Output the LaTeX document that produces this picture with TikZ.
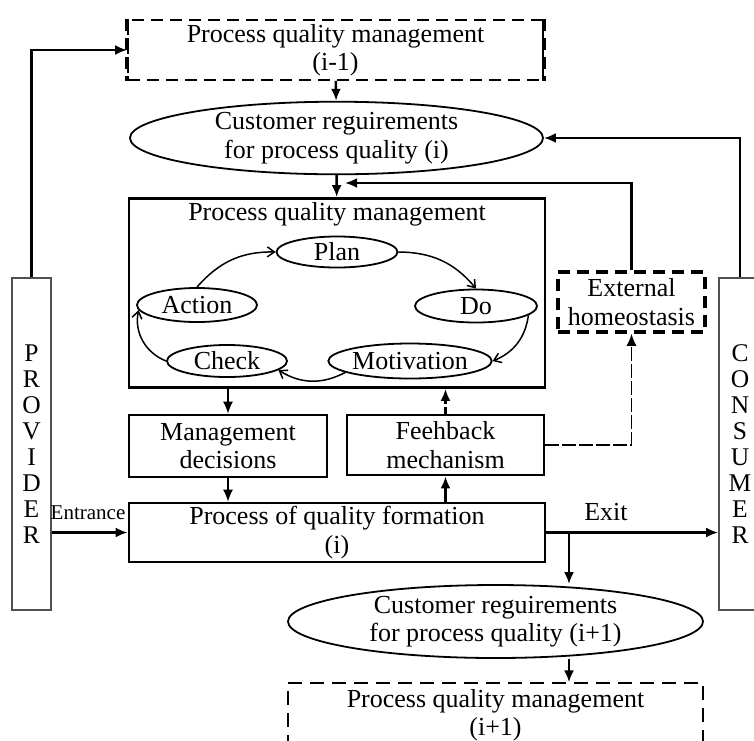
\documentclass[tikz,border=0pt]{standalone}
\usepackage{fontspec}
\setmainfont{Liberation Serif}
\usetikzlibrary{shapes.geometric,arrows.meta}
\definecolor{LineColor}{HTML}{000000}
\definecolor{SideColor}{HTML}{505050}
\tikzstyle{solid_box}=[rectangle,
                       draw=LineColor,
                       line width=2.8pt,
                       inner sep=0pt,
                       align=center]
\tikzstyle{dashed_box}=[rectangle,
                        draw=LineColor,
                        line width=1.8pt,
                        dash pattern=on 12pt off 7pt,
                        inner sep=0pt,
                        align=center]
\tikzstyle{oval}=[ellipse,
                  draw=LineColor,
                  line width=1.8pt,
                  inner sep=0pt,
                  align=center]
\tikzstyle{side_box}=[rectangle,
                      draw=SideColor,
                      line width=1.6pt,
                      inner sep=0pt,
                      align=center,
                      minimum height=332pt,
                      font=\fontsize{25.5}{26.1}\selectfont]
\tikzstyle{link}=[-{Latex[length=12pt,width=10pt]}, line width=2.4pt]
\tikzstyle{thin_link}=[-{Latex[length=12pt,width=10pt]}, line width=1.3pt]
\tikzstyle{cycle_link}=[-{Straight Barb[length=7pt,width=10pt]}, line width=1.5pt]

\begin{document}
\begin{tikzpicture}[font=\fontsize{26}{28.5}\selectfont]
    \useasboundingbox (0pt, 0pt) rectangle (754pt, -740pt);
    % ---------------------------------------------------------------------------------------------------------
    %  Previous and current requirements
    \node at (335.5pt, -50pt) (prevQM) [dashed_box, minimum width=415pt, minimum height=60pt] {Process quality management\\(i-1)};
    \draw[line width=3.8pt, dash pattern=on 12pt off 7pt] (prevQM.north west) -- (prevQM.south west);
    \draw[line width=3.8pt, dash pattern=on 12pt off 7pt] (prevQM.north east) -- (prevQM.south east);
    \node at (336.5pt, -138pt) (reqI) [oval, minimum width=413pt, minimum height=70pt] {Customer reguirements\\for process quality (i)};

    % ---------------------------------------------------------------------------------------------------------
    %  Process quality management with the cycle
    \node at (337pt, -293pt) (pqm) [solid_box, minimum width=416pt, minimum height=189pt] {};
    \node at (337pt, -214pt) (pqmTitle) {Process quality management};

    \node at (337pt, -252pt) (plan) [oval, minimum width=121pt, minimum height=31pt] {Plan};
    \node at (197pt, -305pt) (act) [oval, minimum width=120pt, minimum height=34pt] {Action};
    \node at (476pt, -306pt) (do) [oval, minimum width=122pt, minimum height=33pt] {Do};
    \node at (227pt, -361pt) (check) [oval, minimum width=120pt, minimum height=32pt] {Check};
    \node at (410pt, -361pt) (motiv) [oval, minimum width=150pt, minimum height=35pt] {Motivation};

    \draw[cycle_link] (act.north) to[bend left=25] (plan.west);
    \draw[cycle_link] (plan.east) to[bend left=25] (do.north);
    \draw[cycle_link] (do.-10) to[bend left=30] (motiv.east);
    \draw[cycle_link] (motiv.190) to[bend left=30] (check.-10);
    \draw[cycle_link] (check.west) to[bend left=40] (act.185);

    % ---------------------------------------------------------------------------------------------------------
    %  Decisions, feedback and formation
    \node at (228pt, -446pt) (mdec) [solid_box, minimum width=198pt, minimum height=62pt] {Management\\decisions};
    \node at (445.5pt, -445pt) (fbm) [solid_box, minimum width=197pt, minimum height=60pt] {Feehback\\mechanism};
    \node at (631.5pt, -302pt) (ext) [dashed_box, line width=3.6pt, minimum width=147pt, minimum height=60pt] {External\\homeostasis};
    \node at (337pt, -532.5pt) (proc) [solid_box, minimum width=416pt, minimum height=59pt] {Process of quality formation\\(i)};

    \node at (31.5pt, -444pt) (prov) [side_box, minimum width=39pt] {P\\R\\O\\V\\I\\D\\E\\R};
    \node at (740pt, -444pt) (cons) [side_box, minimum width=42pt] {C\\O\\N\\S\\U\\M\\E\\R};

    \node at (88pt, -513pt) (entranceLbl) [font=\fontsize{21}{24}\selectfont] {Entrance};
    \node at (606pt, -512pt) (exitLbl) {Exit};

    % ---------------------------------------------------------------------------------------------------------
    %  Next requirements
    \node at (495.5pt, -621.5pt) (reqNext) [oval, minimum width=415pt, minimum height=73pt] {Customer reguirements\\for process quality (i+1)};
    \node at (495.5pt, -715pt) (nextQM) [dashed_box, line width=1.3pt, dash pattern=on 14pt off 8pt, minimum width=415pt, minimum height=64pt] {Process quality management\\(i+1)};

    \coordinate (fbIn) at (345pt, -183pt);
    \coordinate (split) at (569pt, -533pt);

    % ---------------------------------------------------------------------------------------------------------
    %  Connectors
    \draw[link] (prov.north) |- (prevQM.west);
    \draw[link] (prevQM) -- (reqI);
    \draw[link] (cons.north) |- (reqI.east);
    \draw[link] (reqI) -- (pqm);
    \draw[link] (ext.north) |- (fbIn);

    \draw[thin_link] (mdec.north |- pqm.south) -- (mdec);
    \draw[thin_link] (mdec) -- (mdec |- proc.north);
    \draw[link, line width=2.8pt] (fbm.south |- proc.north) -- (fbm);
    \draw[link, line width=2.8pt, dash pattern=on 7pt off 3pt] (fbm) -- (fbm.north |- pqm.south);
    \draw[thin_link, dash pattern=on 14pt off 3pt] (fbm.east) -| (ext.south);

    \draw[link] (proc.west -| prov.east) -- (proc.west);
    \draw[link] (proc.east) -- (proc.east -| cons.west);
    \draw[link] (split) -- (split |- reqNext.north);
    \draw[link] (reqNext.south -| split) -- (nextQM.north -| split);
\end{tikzpicture}
\end{document}
